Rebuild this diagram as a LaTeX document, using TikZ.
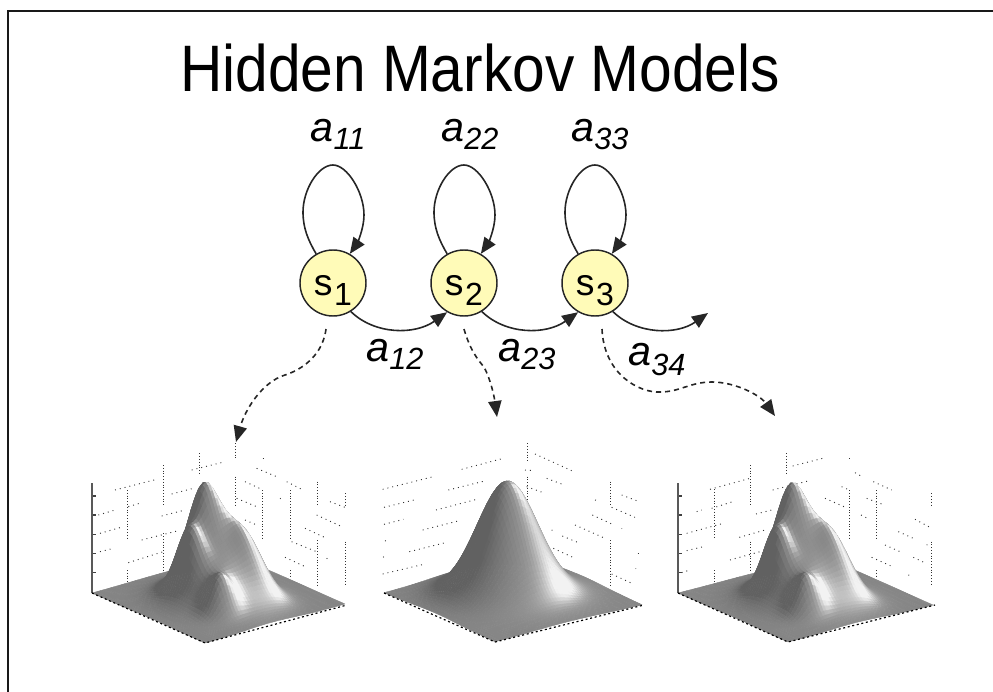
\documentclass[tikz,border=0pt]{standalone}
\usepackage{fontspec}
\setmainfont{Liberation Sans}
\usetikzlibrary{arrows.meta}
\def\NN{52}
\def\NNm{51}
% one Gaussian bump as two 1-D tables: #1 surface, #2 index, #3 u0, #4 v0, #5 su, #6 sv, #7 amplitude*1000
\newcommand\mkgauss[7]{%
 \expandafter\xdef\csname a#1#2\endcsname{#7}%
 \foreach \i in {0,...,\NN}{%
  \expandafter\xdef\csname gu#1#2@\i\endcsname{\fpeval{round(100000*exp(-(\i/\NN-#3)^2/(2*#5*#5)),0)}}%
  \expandafter\xdef\csname gv#1#2@\i\endcsname{\fpeval{round(100000*exp(-(\i/\NN-#4)^2/(2*#6*#6)),0)}}%
 }}
\def\tm#1#2{+\numexpr\csname a#1#2\endcsname*\csname gu#1#2@\i\endcsname/1000*\csname gv#1#2@\j\endcsname/100000\relax}
\mkgauss{A}{1}{.50}{.64}{.085}{.09}{700}
\mkgauss{A}{2}{.65}{.47}{.08}{.14}{370}
\mkgauss{A}{3}{.33}{.56}{.05}{.085}{320}
\mkgauss{A}{4}{.31}{.25}{.06}{.06}{230}
\mkgauss{A}{5}{.46}{.45}{.16}{.18}{430}
\mkgauss{B}{1}{.5}{.55}{.165}{.165}{980}
\mkgauss{B}{2}{.5}{.5}{.27}{.27}{80}
\foreach \i in {0,...,\NN}{\foreach \j in {0,...,\NN}{%
 \expandafter\xdef\csname hA@\i @\j\endcsname{\the\numexpr\tm A1\tm A2\tm A3\tm A4\tm A5\relax}%
 \expandafter\xdef\csname hB@\i @\j\endcsname{\the\numexpr\tm B1\tm B2\relax}}}
\newcommand\mkcolors[1]{\foreach \i in {0,...,\NNm}{\foreach \j in {0,...,\NNm}{%
  \edef\ip{\the\numexpr\i+1}\edef\jp{\the\numexpr\j+1}%
  \edef\ha{\csname h#1@\i @\j\endcsname}\edef\hb{\csname h#1@\ip @\j\endcsname}%
  \edef\hc{\csname h#1@\ip @\jp\endcsname}\edef\hd{\csname h#1@\i @\jp\endcsname}%
  \edef\hu{\the\numexpr(\hb-\ha+\hc-\hd)*\NN*3/8\relax}%
  \edef\hv{\the\numexpr(\hd-\ha+\hc-\hb)*\NN*3/8\relax}%
  \edef\dd{\fpeval{max(0,(-\hu*0.40+\hv*0.70+59000)/sqrt(10000000000+\hu*\hu+\hv*\hv))}}%
  \expandafter\xdef\csname c#1@\i @\j\endcsname{\fpeval{round(min(0.95,0.38+0.24*\dd+0.45*\dd^14),3)}}%
 }}}
\mkcolors{A}
\mkcolors{B}
\newcommand\PX[2]{\dimexpr(\BXX pt+(\RXX pt-\BXX pt)*#1/\NN+(\LXX pt-\BXX pt)*#2/\NN)*3/4\relax}
\newcommand\PY[2]{\dimexpr(\BYY pt+(\RYY pt-\BYY pt)*#1/\NN+(\LYY pt-\BYY pt)*#2/\NN-\HHH pt*\csname h\SSS @#1@#2\endcsname/100000)*-3/4\relax}
\newcommand\drawsurf[8]{%
 \def\SSS{#1}\def\LXX{#2}\def\LYY{#3}\def\BXX{#4}\def\BYY{#5}\def\RXX{#6}\def\RYY{#7}\def\HHH{#8}%
 \begin{pgfscope}\pgfsetlinewidth{.3pt}\pgfsetroundjoin
 \foreach \i in {\NNm,...,0}{\foreach \j in {\NNm,...,0}{%
  \edef\ip{\the\numexpr\i+1}\edef\jp{\the\numexpr\j+1}%
  \definecolor{qc}{gray}{\csname c#1@\i @\j\endcsname}%
  \pgfsetfillcolor{qc}\pgfsetstrokecolor{qc}%
  \pgfpathmoveto{\pgfqpoint{\PX\i\j}{\PY\i\j}}%
  \pgfpathlineto{\pgfqpoint{\PX\ip\j}{\PY\ip\j}}%
  \pgfpathlineto{\pgfqpoint{\PX\ip\jp}{\PY\ip\jp}}%
  \pgfpathlineto{\pgfqpoint{\PX\i\jp}{\PY\i\jp}}%
  \pgfpathclose\pgfusepath{fill,stroke}%
 }}\end{pgfscope}}
\newcommand\dotsegs[1]{\foreach \ax/\ay/\bx/\by in {#1}{\ifx\ax\bx\draw[griddot] (\ax,\ay)--(\bx,\by);\else\draw[griddotb] (\ax,\ay)--(\bx,\by);\fi}}
\newcommand\lbl[3]{\raisebox{0pt}[0pt][0pt]{\fontsize{31}{31}\selectfont\itshape #1\raisebox{#3}{\fontsize{23}{23}\selectfont #2}}}
\newcommand\stt[2]{\raisebox{-9pt}[0pt][0pt]{\fontsize{28}{28}\selectfont #1\kern1.2pt\raisebox{-7.5pt}{\fontsize{24}{24}\selectfont #2}}}
\tikzset{
 griddot/.style={draw=black!80,line width=.7pt,dash pattern=on .7pt off 1.4pt},
 griddotb/.style={draw=black!80,line width=.7pt,dash pattern=on .7pt off 3pt},
 edgedot/.style={draw=black,line width=.9pt,dash pattern=on 1.5pt off 2pt},
 axisline/.style={draw=black!65,line width=1.2pt},
 ticksty/.style={draw=black!75,line width=.8pt},
 statenode/.style={circle,draw=black!85,line width=1.1pt,fill=yellow!28!white,minimum size=49.5pt,inner sep=0pt},
 labelnode/.style={inner sep=0pt},
 trans/.style={draw=black!85,line width=1.2pt,-{Triangle[length=12pt,width=10pt]}},
 emis/.style={trans,dash pattern=on 3.8pt off 3pt},
 zoomone/.style={shift={(60,430)},x=.25pt,y=-.25pt},
 zoomtwo/.style={shift={(360,430)},x=.25pt,y=-.25pt},
 zoomthree/.style={shift={(650,430)},x=.25pt,y=-.25pt},
}
\begin{document}
\begin{tikzpicture}[x=.75pt,y=-.75pt]
\useasboundingbox (0,0) rectangle (993,692);
\draw[line width=1.3pt,black!90] (8,692) -- (8,11) -- (993,11);
\node[inner sep=0pt,anchor=base] (title) at (480,92) {\scalebox{1}[1.12]{\fontsize{44}{44}\selectfont Hidden Markov Models}};
% walls
\begin{scope}[zoomone]
\dotsegs{310/105/310/225,203/180/203/325,310/310/310/425,203/420/203/455,418/70/418/135,525/40/525/85,525/140/525/230,608/180/608/325,690/180/690/325,772/155/772/225,772/330/772/465,855/190/855/225,855/335/855/465,690/420/690/440,
165/180/290/148,115/255/165/240,205/230/238/220,120/310/190/290,335/192/400/175,305/258/375/240,245/330/355/302,120/365/160/355,205/398/310/365,395/120/495/95,
590/115/650/140,680/155/725/178,555/155/605/178,530/205/590/230,810/215/855/232,770/255/850/292,735/295/800/325,695/335/770/365,675/382/740/412,555/270/590/285,660/205/662/206,800/385/802/386,608/85/610/85}
\foreach \ty in {198,255,313,370,428}{\draw[ticksty] (95,\ty) -- (107,\ty);}
\end{scope}
\begin{scope}[zoomtwo]
\dotsegs{503/40/503/95,503/140/503/215,750/155/750/225,750/330/750/465,
305/118/430/85,68/178/220/140,265/180/378/152,72/232/170/208,228/240/350/208,72/283/130/268,188/300/298/272,148/365/260/337,68/432/195/402,75/332/78/333,70/380/71/382,
525/72/635/122,495/120/520/122,560/145/605/162,500/170/555/190,785/195/830/212,705/210/715/212,755/232/825/262,697/255/755/282,785/295/786/296,645/285/735/325,607/318/660/340,575/300/577/301,580/355/645/385,755/432/820/462,833/370/835/370,827/415/828/416}
\end{scope}
\begin{scope}[zoomthree]
\dotsegs{300/105/300/225,193/178/193/325,300/335/300/420,193/420/193/455,408/70/408/135,598/180/598/325,680/180/680/325,845/190/845/230,845/335/845/465,680/420/680/440,
180/178/300/145,140/245/155/240,185/235/248/215,110/310/220/280,368/180/478/152,318/252/365/240,268/322/345/300,110/362/160/350,240/390/330/365,95/428/120/420,428/108/518/85,
615/128/640/142,670/155/725/180,575/170/598/180,525/205/582/230,650/205/695/222,633/255/658/268,795/268/840/292,745/305/790/325,705/345/750/365,665/382/732/412,790/382/828/400,775/435/785/438,830/345/832/344,598/85/600/85}
\foreach \ty in {198,255,313,370,428}{\draw[ticksty] (85,\ty) -- (97,\ty);}
\end{scope}
% surfaces
\drawsurf{A}{92}{593}{205}{643}{345}{604}{112}
\drawsurf{B}{384}{593}{495}{642}{642}{605}{109}
\drawsurf{A}{678}{593}{788}{642}{933}{605}{112}
% axes and edges
\draw[axisline] (92,483) -- (92,593);
\draw[axisline] (678,483) -- (678,593);
\draw[edgedot] (92,593) -- (205,643) -- (347,605);
\draw[edgedot] (384,593) -- (495,642) -- (644,605);
\draw[edgedot] (678,593) -- (788,642) -- (935,605);
% states
\node[statenode] (s1) at (333,283) {\stt{s}{1}};
\node[statenode] (s2) at (464,283) {\stt{s}{2}};
\node[statenode] (s3) at (595,283) {\stt{s}{3}};
\coordinate (out) at (708,313);
\coordinate (d1s) at (326,329);
\coordinate (d1e) at (236,442);
\coordinate (d2s) at (464,329);
\coordinate (d2e) at (497,417);
\coordinate (d3s) at (602,329);
\coordinate (d3e) at (775,416);
\draw[trans] (s1.120) .. controls (308,240) and (303,228) .. (303,212) .. controls (303,190) and (318,165) .. (333,165) .. controls (347,165) and (364,192) .. (364,215) .. controls (364,230) and (356,245) .. (s1.60);
\draw[trans] (s2.120) .. controls (439,240) and (434,228) .. (434,212) .. controls (434,190) and (449,165) .. (464,165) .. controls (478,165) and (495,192) .. (495,215) .. controls (495,230) and (487,245) .. (s2.60);
\draw[trans] (s3.120) .. controls (570,240) and (565,228) .. (565,212) .. controls (565,190) and (580,165) .. (595,165) .. controls (609,165) and (626,192) .. (626,215) .. controls (626,230) and (618,245) .. (s3.60);
\draw[trans] (s1.-58) .. controls (375,335) and (415,335) .. (s2.-120);
\draw[trans] (s2.-58) .. controls (506,335) and (546,335) .. (s3.-120);
\draw[trans] (s3.-58) .. controls (637,335) and (677,335) .. (out);
\draw[emis] (d1s) .. controls (322,360) and (295,372) .. (285,375) .. controls (262,382) and (245,410) .. (d1e);
\draw[emis] (d2s) .. controls (470,350) and (478,360) .. (484,367) .. controls (490,378) and (494,395) .. (d2e);
\draw[emis] (d3s) .. controls (604,375) and (640,393) .. (660,392) .. controls (680,392) and (690,382) .. (712,382) .. controls (735,382) and (760,395) .. (d3e);
\node[labelnode] (l11) at (338,142) {\lbl{a}{11}{-6pt}};
\node[labelnode] (l22) at (470,142) {\lbl{a}{22}{-6pt}};
\node[labelnode] (l33) at (600,142) {\lbl{a}{33}{-6pt}};
\node[labelnode] (l12) at (395,361) {\lbl{a}{12}{-6.5pt}};
\node[labelnode] (l23) at (527,361) {\lbl{a}{23}{-6.5pt}};
\node[labelnode] (l34) at (657,365) {\lbl{a}{34}{-8pt}};
\end{tikzpicture}
\end{document}
